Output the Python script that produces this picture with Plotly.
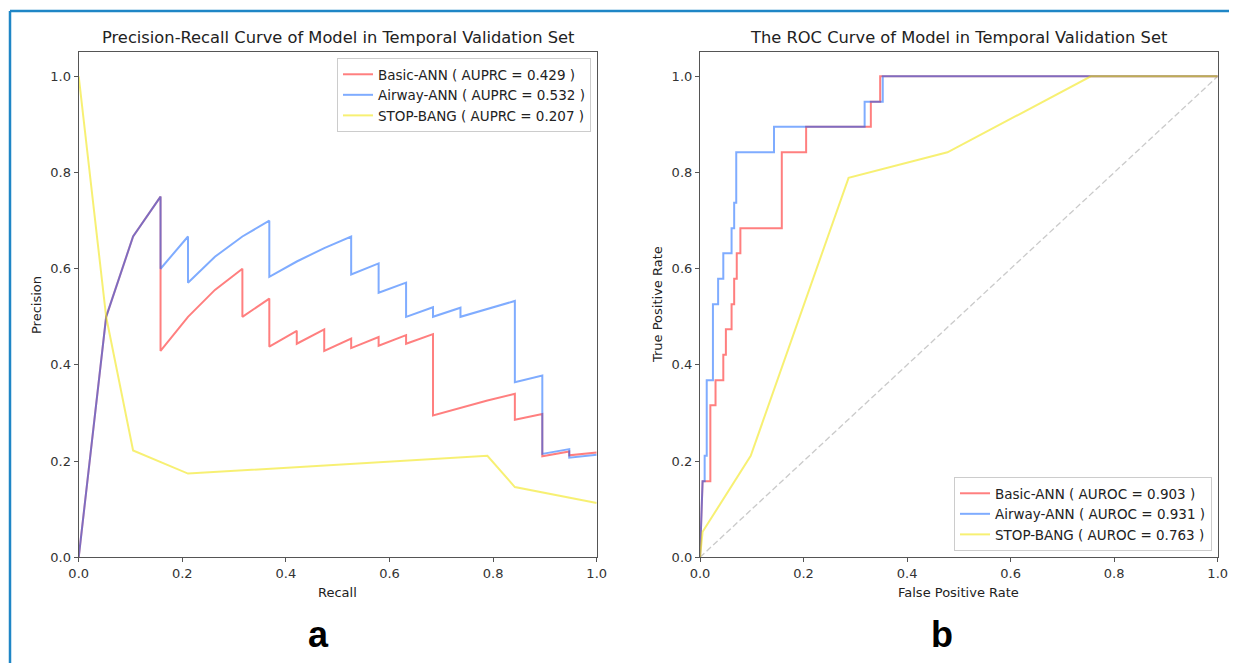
import plotly.graph_objects as go

# ---------------- Precision-Recall data ----------------
pr_recall_basic = [0, 0.053, 0.105, 0.158, 0.158, 0.211, 0.263, 0.316, 0.316, 0.368, 0.368,
                   0.421, 0.421, 0.474, 0.474, 0.526, 0.526, 0.579, 0.579, 0.632, 0.632,
                   0.684, 0.684, 0.737, 0.789, 0.842, 0.842, 0.895, 0.895, 0.947, 0.947, 1.0]
pr_prec_basic = [0, 0.5, 0.667, 0.75, 0.429, 0.5, 0.556, 0.6, 0.5, 0.538, 0.438,
                 0.471, 0.444, 0.474, 0.429, 0.455, 0.435, 0.458, 0.44, 0.462, 0.444,
                 0.464, 0.295, 0.311, 0.326, 0.34, 0.286, 0.298, 0.21, 0.22, 0.212, 0.218]

pr_recall_airway = [0, 0.053, 0.105, 0.158, 0.158, 0.211, 0.211, 0.263, 0.316, 0.368, 0.368,
                    0.421, 0.474, 0.526, 0.526, 0.579, 0.579, 0.632, 0.632, 0.684, 0.684,
                    0.737, 0.737, 0.789, 0.842, 0.842, 0.895, 0.895, 0.947, 0.947, 1.0]
pr_prec_airway = [0, 0.5, 0.667, 0.75, 0.6, 0.667, 0.571, 0.625, 0.667, 0.7, 0.583,
                  0.615, 0.643, 0.667, 0.588, 0.611, 0.55, 0.571, 0.5, 0.52, 0.5,
                  0.519, 0.5, 0.517, 0.533, 0.364, 0.378, 0.215, 0.225, 0.207, 0.213]

pr_recall_stopbang = [0, 0.053, 0.105, 0.211, 0.789, 0.842, 1.0]
pr_prec_stopbang = [1.0, 0.5, 0.222, 0.174, 0.211, 0.146, 0.113]

# ---------------- ROC data ----------------
roc_fpr_basic = [0, 0.005, 0.02, 0.02, 0.03, 0.03, 0.045, 0.045, 0.05, 0.05, 0.061, 0.061,
                 0.066, 0.066, 0.071, 0.071, 0.078, 0.078, 0.158, 0.158, 0.205, 0.205,
                 0.33, 0.33, 0.348, 0.348, 1.0]
roc_tpr_basic = [0, 0.158, 0.158, 0.316, 0.316, 0.368, 0.368, 0.421, 0.421, 0.474, 0.474, 0.526,
                 0.526, 0.579, 0.579, 0.632, 0.632, 0.684, 0.684, 0.842, 0.842, 0.895,
                 0.895, 0.947, 0.947, 1.0, 1.0]

roc_fpr_airway = [0, 0.005, 0.009, 0.009, 0.013, 0.013, 0.025, 0.025, 0.035, 0.035, 0.045, 0.045,
                  0.061, 0.061, 0.066, 0.066, 0.07, 0.07, 0.143, 0.143, 0.318, 0.318,
                  0.353, 0.353, 1.0]
roc_tpr_airway = [0, 0.158, 0.158, 0.211, 0.211, 0.368, 0.368, 0.526, 0.526, 0.579, 0.579, 0.632,
                  0.632, 0.684, 0.684, 0.737, 0.737, 0.842, 0.842, 0.895, 0.895, 0.947,
                  0.947, 1.0, 1.0]

roc_fpr_stopbang = [0, 0.005, 0.098, 0.287, 0.478, 0.755, 1.0]
roc_tpr_stopbang = [0, 0.053, 0.211, 0.789, 0.842, 1.0, 1.0]

chance_line = [0, 1]

pr_names = ["Basic-ANN ( AUPRC = 0.429 )", "Airway-ANN ( AUPRC = 0.532 )", "STOP-BANG ( AUPRC = 0.207 )"]
roc_names = ["Basic-ANN ( AUROC = 0.903 )", "Airway-ANN ( AUROC = 0.931 )", "STOP-BANG ( AUROC = 0.763 )"]
axis_ticks = [0, 0.2, 0.4, 0.6, 0.8, 1.0]

W, H = 1237, 663
OFF = 8  # page body margin in the browser


def px(x):
    return (x - OFF) / W


def py(y):
    return 1 - (y - OFF) / H


RED = "rgba(255,0,0,0.5)"
BLUE = "rgba(0,90,255,0.5)"
YEL = "rgba(240,228,0,0.55)"
colors = [RED, BLUE, YEL]
FONT = "DejaVu Sans"

fig = go.Figure()

pr_sets = [(pr_recall_basic, pr_prec_basic), (pr_recall_airway, pr_prec_airway),
           (pr_recall_stopbang, pr_prec_stopbang)]
for (xs, ys), c, n in zip(pr_sets, colors, pr_names):
    fig.add_trace(go.Scatter(x=xs, y=ys, mode="lines", line=dict(color=c, width=2),
                             name=n, xaxis="x", yaxis="y", legend="legend"))

roc_sets = [(roc_fpr_basic, roc_tpr_basic), (roc_fpr_airway, roc_tpr_airway),
            (roc_fpr_stopbang, roc_tpr_stopbang)]
fig.add_trace(go.Scatter(x=chance_line, y=chance_line, mode="lines",
                         line=dict(color="rgba(150,150,150,0.5)", width=1.3, dash="6px,3px"),
                         showlegend=False, xaxis="x2", yaxis="y2"))
for (xs, ys), c, n in zip(roc_sets, colors, roc_names):
    fig.add_trace(go.Scatter(x=xs, y=ys, mode="lines", line=dict(color=c, width=2),
                             name=n, xaxis="x2", yaxis="y2", legend="legend2"))

axis_common = dict(tickvals=axis_ticks, tickformat=".1f", ticks="outside", ticklen=4,
                   tickwidth=1, tickcolor="#555", showline=True, linecolor="#555",
                   linewidth=1.2, mirror=True, showgrid=False, zeroline=False,
                   automargin=False,
                   tickfont=dict(family=FONT, size=13, color="#333"))

ydom = [py(557.3), py(52.3)]
legend_common = dict(bgcolor="rgba(255,255,255,0.85)", bordercolor="#cccccc", borderwidth=1,
                     font=dict(family=FONT, size=13.5, color="#222"), tracegroupgap=0,
                     itemwidth=30)
fig.update_layout(
    width=W, height=H, autosize=False,
    margin=dict(l=0, r=0, t=0, b=0, pad=0),
    paper_bgcolor="white", plot_bgcolor="white",
    xaxis=dict(domain=[px(78.7), px(596.7)], range=[0, 1], anchor="y", **axis_common),
    yaxis=dict(domain=ydom, range=[0, 1.05], anchor="x", **axis_common),
    xaxis2=dict(domain=[px(700), px(1217.7)], range=[0, 1], anchor="y2", **axis_common),
    yaxis2=dict(domain=ydom, range=[0, 1.05], anchor="x2", **axis_common),
    legend=dict(x=px(591), y=py(58), xanchor="right", yanchor="top", **legend_common),
    legend2=dict(x=px(1212), y=py(551), xanchor="right", yanchor="bottom", **legend_common),
    showlegend=True,
)

ann = []


def text(x, y, s, size=12, angle=0, family=FONT, color="#222"):
    ann.append(dict(x=px(x), y=py(y), xref="paper", yref="paper", text=s, showarrow=False,
                    xanchor="center", yanchor="middle", textangle=angle,
                    font=dict(family=family, size=size, color=color)))


text(337.7, 38, "Precision-Recall Curve of Model in Temporal Validation Set", size=16.3)
text(958.8, 38, "The ROC Curve of Model in Temporal Validation Set", size=16.3)
text(337.7, 592, "Recall", size=13)
text(958.8, 592, "False Positive Rate", size=13)
text(36, 305, "Precision", size=13, angle=-90)
text(657, 305, "True Positive Rate", size=13, angle=-90)
text(318, 634, "<b>a</b>", size=36, family="Liberation Sans", color="#000")
text(942, 634, "<b>b</b>", size=36, family="Liberation Sans", color="#000")
fig.update_layout(annotations=ann)

BORDER = "#1f86c6"
fig.update_layout(shapes=[
    dict(type="line", xref="paper", yref="paper", x0=px(10), x1=px(1245), y0=py(11), y1=py(11),
         line=dict(color=BORDER, width=2.5)),
    dict(type="line", xref="paper", yref="paper", x0=px(10), x1=px(10), y0=py(671), y1=py(11),
         line=dict(color=BORDER, width=2.5)),
])

fig.write_html("out.html")
